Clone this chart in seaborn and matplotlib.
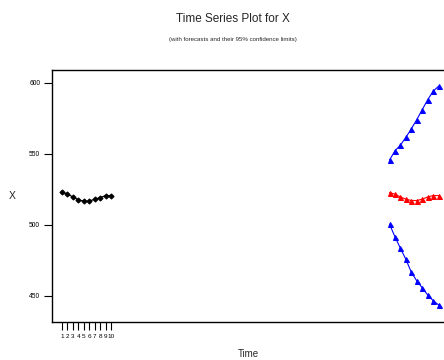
import numpy as np
import pandas as pd
import matplotlib
matplotlib.use("Agg")
import matplotlib.pyplot as plt
import seaborn as sns

# observed series
time = [1, 2, 3, 4, 5, 6, 7, 8, 9, 10]
x_obs = [523, 521.5, 519.5, 517.5, 516.5, 516.5, 518, 519, 520.5, 520.5]

# forecasts and 95% limits
fc_time = [61, 62, 63, 64, 65, 66, 67, 68, 69, 70]
forecast = [522.5, 521.5, 519.5, 518, 517, 517, 518, 519.5, 520.5, 520.5]
upper = [545.5, 552, 556, 561.5, 567.5, 574, 581, 588, 594, 597.5]
lower = [500.3, 491.5, 483.4, 475.6, 466.5, 460.4, 455.6, 450.5, 446.5, 443.5]

tick_labels = ["1", "2", "3", "4", "5", "6", "7", "8", "9", "10"]

sns.set_style("white")
plt.rcParams['font.family'] = ['Liberation Sans Narrow', 'Liberation Sans', 'DejaVu Sans']

fig = plt.figure(figsize=(4.44, 3.6), dpi=100)
ax = fig.add_axes([52/444, 1 - 321.7/360, 397/444, (321.7 - 70)/360])

obs = pd.DataFrame({'Time': time, 'X': x_obs})
fc = pd.DataFrame({'Time': fc_time, 'forecast': forecast, 'upper': upper, 'lower': lower})

sns.lineplot(data=obs, x='Time', y='X', color='black', marker='D', markersize=2.6,
             markeredgecolor='black', linewidth=0.9, ax=ax)
sns.lineplot(data=fc, x='Time', y='upper', color='blue', marker='^', markersize=3.6,
             markeredgecolor='blue', linewidth=0.8, ax=ax)
sns.lineplot(data=fc, x='Time', y='forecast', color='red', marker='^', markersize=3.6,
             markeredgecolor='red', linewidth=0.8, ax=ax)
sns.lineplot(data=fc, x='Time', y='lower', color='blue', marker='^', markersize=3.6,
             markeredgecolor='blue', linewidth=0.8, ax=ax)

ax.set_xlim(-0.83, 71.9)
ax.set_ylim(431.7, 608.9)
ax.set_xticks(time)
ax.set_xticklabels(tick_labels, fontsize=4.6)
ax.set_yticks([450, 500, 550, 600])
ax.set_yticklabels(["450", "500", "550", "600"], fontsize=4.8)
ax.tick_params(axis='both', direction='out', length=6, width=0.8, colors='black', pad=2.5,
               left=True, bottom=True)
for s in ax.spines.values():
    s.set_color('black')
    s.set_linewidth(1)

ax.set_xlabel('')
ax.set_ylabel('')
fig.text(248/444, 1 - 354/360, 'Time', ha='center', va='center', fontsize=7)
fig.text(12/444, 1 - 196/360, 'X', ha='center', va='center', fontsize=7.5)

fig.text(233/444, 1 - 19/360, 'Time Series Plot for X', ha='center', va='center', fontsize=8.5)
fig.text(233/444, 1 - 39/360, '(with forecasts and their 95% confidence limits)',
         ha='center', va='center', fontsize=4.4)

fig.savefig('out.png', dpi=100)
